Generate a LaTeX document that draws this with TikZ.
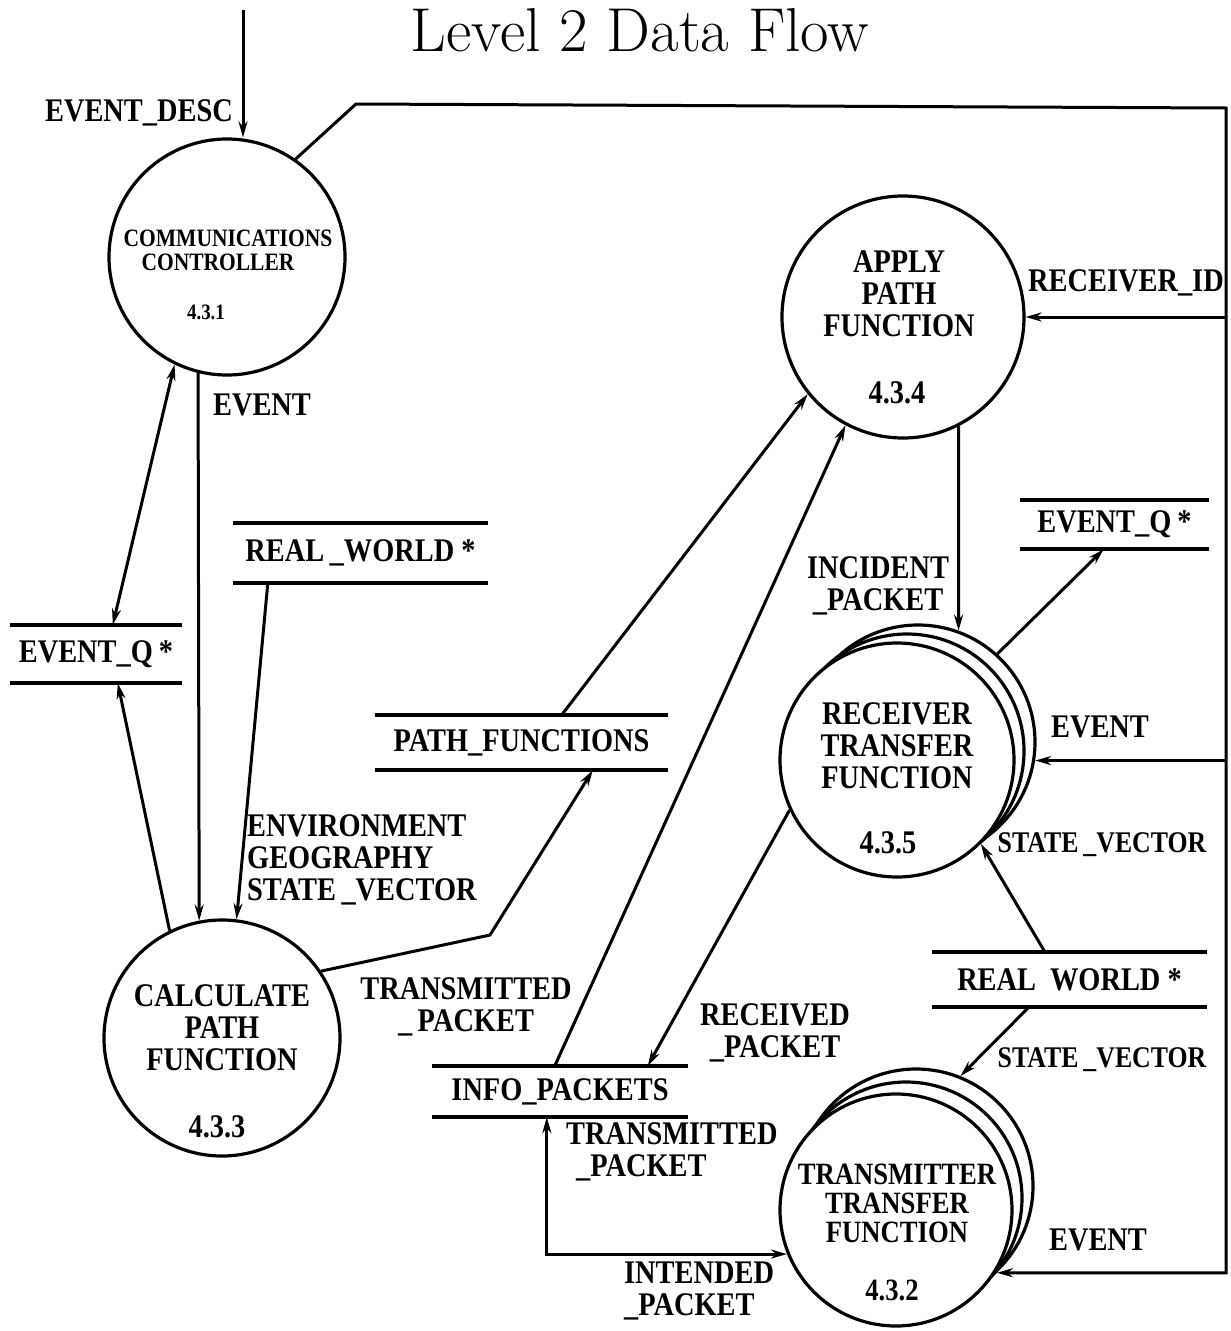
\documentclass[tikz,border=0pt]{standalone}
\usepackage{fontspec}
\newfontfamily\lblfont[FakeStretch=0.86]{Liberation Serif}
\usetikzlibrary{arrows.meta}
\begin{document}
\begin{tikzpicture}[x=1pt,y=-1pt,
  >={Stealth[length=16pt,width=9pt]},
  flow/.style={line width=3pt},
  bubble/.style={circle,draw,line width=3.2pt,fill=white,inner sep=0pt},
  storebox/.style={inner sep=0pt},
  storeline/.style={line width=3.8pt},
  lbl/.style={font=\lblfont\bfseries\fontsize{33}{32}\selectfont,inner sep=0pt,align=center},
  lblsm/.style={font=\lblfont\bfseries\fontsize{30}{30}\selectfont,inner sep=0pt,align=center},
  lbltiny/.style={font=\lblfont\bfseries\fontsize{25}{25}\selectfont,inner sep=0pt,align=center},
]
\useasboundingbox[fill=white] (0,0) rectangle (1231,1331);

% title
\node[font=\fontsize{62}{62}\selectfont,anchor=base,inner sep=0pt] (title) at (640,51) {Level 2 Data Flow};

% processes
\node[bubble,minimum size=236pt] (c431) at (227,257) {};
\node[bubble,minimum size=242pt] (c434) at (903,317) {};
\node[bubble,minimum size=236pt] (c433) at (222,1038) {};
% multiple-instance process: receiver
\node[bubble,minimum size=234pt] (c435b) at (918,742) {};
\node[bubble,minimum size=234pt] (c435m) at (907,751) {};
\node[bubble,minimum size=234pt] (c435) at (897,760) {};
% multiple-instance process: transmitter
\node[bubble,minimum size=234pt] (c432b) at (916,1186) {};
\node[bubble,minimum size=232pt] (c432m) at (906,1198) {};
\node[bubble,minimum size=232pt] (c432) at (896,1210) {};

% process texts
\node[lbltiny] (t431a) at (228,238) {COMMUNICATIONS};
\node[lbltiny] (t431b) at (218,262) {CONTROLLER};
\node[lbltiny,font=\lblfont\bfseries\fontsize{22}{22}\selectfont] (t431n) at (206,312) {4.3.1};

\node[lbl] (t434) at (899,294) {APPLY\\PATH\\FUNCTION};
\node[lbl] (t434n) at (897,393) {4.3.4};

\node[lbl] (t435) at (897,746) {RECEIVER\\TRANSFER\\FUNCTION};
\node[lbl] (t435n) at (888,843) {4.3.5};

\node[lbl,font=\lblfont\bfseries\fontsize{31}{29}\selectfont] (t432) at (897,1203) {TRANSMITTER\\TRANSFER\\FUNCTION};
\node[lbl,font=\lblfont\bfseries\fontsize{31}{29}\selectfont] (t432n) at (892,1290) {4.3.2};

\node[lbl] (t433) at (222,1028) {CALCULATE\\PATH\\FUNCTION};
\node[lbl] (t433n) at (217,1127) {4.3.3};

% data stores
\node[storebox,lbl,minimum width=172pt,minimum height=58pt] (eq1) at (96,654) {EVENT\_Q\hspace{6pt}*};
\node[storebox,lbl,minimum width=255pt,minimum height=60pt] (rw1) at (360.5,553) {REAL\,\_WORLD *};
\node[storebox,lbl,minimum width=293pt,minimum height=55pt] (pf) at (521.5,742.5) {PATH\_FUNCTIONS};
\node[storebox,lbl,minimum width=189pt,minimum height=49pt] (eq2) at (1114.5,524.5) {EVENT\_Q\hspace{6pt}*};
\node[storebox,lbl,minimum width=275pt,minimum height=55pt] (rw2) at (1069.5,979.5) {REAL\hspace{14pt}WORLD *};
\node[storebox,lbl,minimum width=256pt,minimum height=51pt] (ip) at (560,1091.5) {INFO\_PACKETS};
\foreach \s in {eq1,rw1,pf,eq2,rw2,ip}
  \draw[storeline] (\s.north west) -- (\s.north east) (\s.south west) -- (\s.south east);

% external input
\coordinate (descsrc) at (243,10);
\draw[flow,->] (descsrc) -- (descsrc |- c431.north);
\node[lbl,anchor=east] (ldesc) at (233,113) {EVENT\_DESC};

% event distribution from the controller
\coordinate (loopA) at (356,104);
\coordinate (loopB) at (1226,108);
\draw[flow,->] (c431.55) -- (loopA) -- (loopB) -- (loopB |- c432b.-47) -- (c432b.-47);
\draw[flow,->] (loopB |- c434.east) -- (c434.east);
\draw[flow,->] (loopB |- c435b.-9) -- (c435b.-9);
\node[lbl] (lrid) at (1126,283) {RECEIVER\_ID};
\node[lbl] (lev2) at (1100,727) {EVENT};
\node[lbl] (lev3) at (1098,1240) {EVENT};

% controller and left side
\draw[flow,<->] (c431.-116) -- ([xshift=103pt]eq1.north west);
\draw[flow,->] (c431.-104) -- (c433.101.7);
\node[lbl] (lev1) at (262,405) {EVENT};
\draw[flow,->] (c433.116) -- ([xshift=108pt]eq1.south west);
\draw[flow,->] ([xshift=35pt]rw1.south west) -- (c433.83);
\node[lbl,anchor=west,align=left] (lenv) at (247,860) {ENVIRONMENT\\GEOGRAPHY\\STATE\,\_VECTOR};

% path functions
\coordinate (pfbend) at (490,935);
\draw[flow,->] (c433.34) -- (pfbend) -- ([xshift=218pt]pf.south west);
\draw[flow,->] ([xshift=187pt]pf.north west) -- (c434.-141);

% packets
\draw[flow,->] ([xshift=123pt]ip.north west) -- (c434.-118);
\node[lbl] (ltp1) at (466,1007) {TRANSMITTED\\\_\,PACKET};
\draw[flow,->] (c434.-63) -- (c435b.70);
\node[lbl] (linc) at (878,586) {INCIDENT\\\_PACKET};
\draw[flow,->] (c435b.48) -- ([xshift=84pt]eq2.south west);
\draw[flow,->] ([xshift=113pt]rw2.north west) -- (c435.-45);
\node[lblsm] (lsv1) at (1102,845) {STATE\,\_VECTOR};
\draw[flow,->] (c435.-155) -- ([xshift=216pt]ip.north west);
\node[lbl] (lrec) at (775,1033) {RECEIVED\\\_PACKET};
\draw[flow,->] ([xshift=97pt]rw2.south west) -- (c432b.68);
\node[lblsm] (lsv2) at (1102,1060) {STATE\,\_VECTOR};
\draw[flow,<->] ([xshift=115pt]ip.south west) |- (c432.-158);
\node[lbl,anchor=west,align=left] (ltp2) at (566,1152) {TRANSMITTED\\\hspace{10pt}\_PACKET};
\node[lbl,anchor=west,align=left] (lint) at (624,1291) {INTENDED\\\_PACKET};
\end{tikzpicture}
\end{document}
